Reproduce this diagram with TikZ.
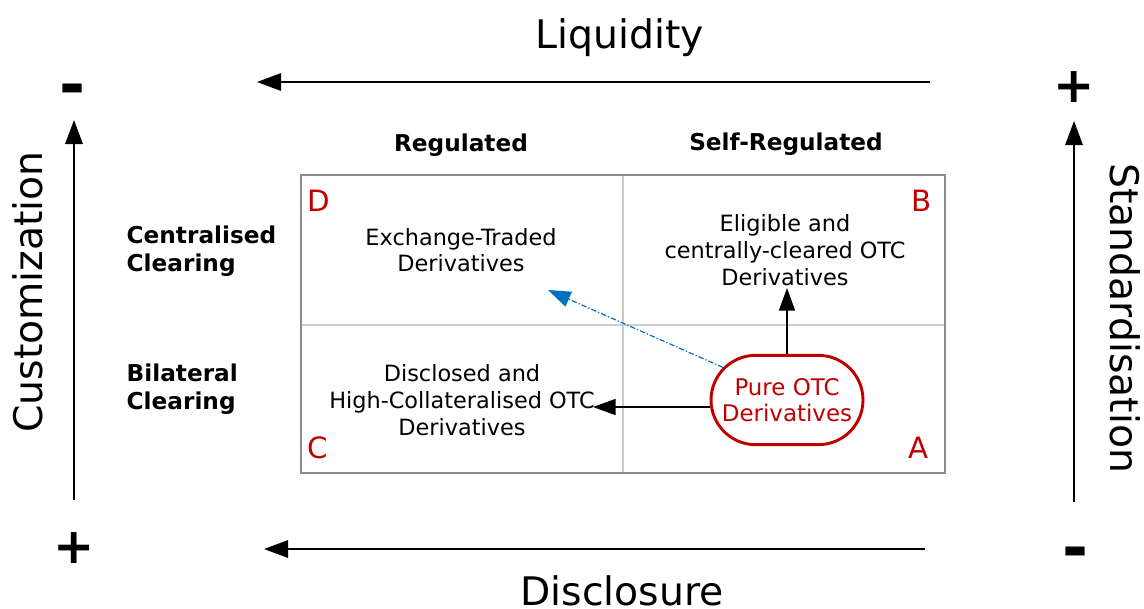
\documentclass[tikz,border=0pt]{standalone}
\usepackage{fontspec}
\setmainfont{DejaVu Sans}
\usetikzlibrary{arrows.meta,shapes.misc}
\definecolor{cornerred}{HTML}{C00000}
\definecolor{flowblue}{HTML}{0070C0}
\tikzset{axistitle/.style={
    font=\fontsize{29.5}{35}\selectfont
  },
  signlabel/.style={font=\fontsize{37}{42}\selectfont\bfseries},
  minuslabel/.style={font=\fontsize{47}{52}\selectfont\bfseries},
  headlabel/.style={font=\fontsize{17.4}{21}\selectfont\bfseries},
  rowlabel/.style={headlabel,align=left,anchor=west},
  celltext/.style={font=\fontsize{16.8}{20}\selectfont,align=center},
  cornerletter/.style={font=\fontsize{22}{26}\selectfont,text=cornerred},
  purebox/.style={
    rounded rectangle,
    draw=cornerred,
    line width=2.2pt,
    minimum width=118pt,
    minimum height=67pt,
    inner xsep=2pt,
    text=cornerred,
    align=center,
    font=\fontsize{17.2}{20}\selectfont
  },
  axisarrow/.style={line width=1.5pt,-{Triangle[length=18pt,width=13pt]}},
  flowarrow/.style={line width=1.2pt,-{Triangle[length=17pt,width=12pt]}},
  hintarrow/.style={flowarrow,draw=flowblue,line width=0.9pt,
    dash pattern=on 4pt off 1.5pt on 1pt off 1.5pt},
  outerframe/.style={draw=black!45,line width=1.1pt},
  innergrid/.style={draw=black!20,line width=0.8pt},
}
\begin{document}
\begin{tikzpicture}[x=0.75pt,y=-0.75pt]
  \useasboundingbox (0,0) rectangle (1144,608);
  % axes
  \node[axistitle] (liq) at (620,38) {Liquidity};
  \node[axistitle] (discl) at (622,591) {Disclosure};
  \node[axistitle,rotate=90] (cust) at (28,292) {Customization};
  \node[axistitle,rotate=-90] (std) at (1125,318) {Standardisation};
  \node[minuslabel] (liqminus) at (73,95) {-};
  \node[signlabel] (stdplus) at (1074,87) {+};
  \node[signlabel] (custplus) at (74,548) {+};
  \node[minuslabel] (discminus) at (1075,558) {-};
  \coordinate (liqstart) at (930,82);
  \coordinate (liqend) at (257,82);
  \coordinate (discstart) at (925,549);
  \coordinate (discend) at (264,549);
  \coordinate (custstart) at (74,500);
  \coordinate (custend) at (74,120);
  \coordinate (stdstart) at (1074,502);
  \coordinate (stdend) at (1074,121);
  \draw[axisarrow] (liqstart) -- (liqend);
  \draw[axisarrow] (discstart) -- (discend);
  \draw[axisarrow] (custstart) -- (custend);
  \draw[axisarrow] (stdstart) -- (stdend);
  % grid
  \draw[innergrid] (623,175) -- (623,473);
  \draw[innergrid] (301,325) -- (945,325);
  \draw[outerframe] (301,175) rectangle (945,473);
  \node[headlabel] (reg) at (461,145) {Regulated};
  \node[headlabel] (selfreg) at (786,144) {Self-Regulated};
  \node[rowlabel] (central) at (122,251) {Centralised\\Clearing};
  \node[rowlabel] (bilat) at (122,389) {Bilateral\\Clearing};
  \node[cornerletter] (cd) at (319,201) {D};
  \node[cornerletter] (cb) at (922,201) {B};
  \node[cornerletter] (cc) at (318,448) {C};
  \node[cornerletter] (ca) at (919,448) {A};
  % cells
  \node[celltext] (etd) at (461,250) {Exchange-Traded\\Derivatives};
  \node[celltext] (elig) at (785,250) {Eligible and\\centrally-cleared OTC\\Derivatives};
  \node[celltext] (disc) at (462,400) {Disclosed and\\High-Collateralised OTC\\Derivatives};
  \node[purebox] (pure) at (787,400) {Pure OTC\\Derivatives};
  \coordinate (eligtip) at (787,288);
  \coordinate (disctip) at (593,407);
  \coordinate (etdtip) at (548,290);
  \draw[flowarrow] (pure.north) -- (eligtip);
  \draw[flowarrow] (pure.west |- disctip) -- (disctip);
  \draw[hintarrow] (pure.153) -- (etdtip);
\end{tikzpicture}
\end{document}
